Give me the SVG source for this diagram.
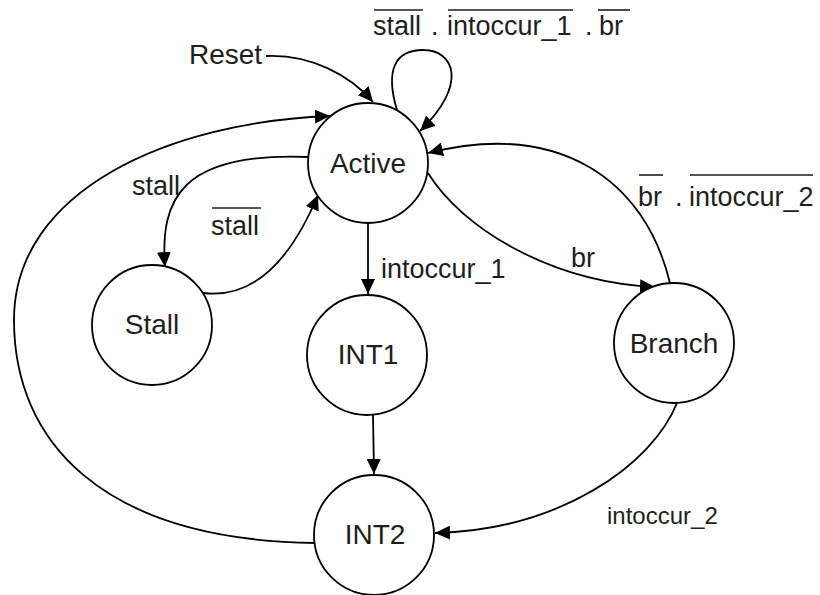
<svg xmlns="http://www.w3.org/2000/svg" width="820" height="595" viewBox="0 0 820 595">
  <style>
    .state { fill: #ffffff; stroke: #000000; stroke-width: 1.8; }
    .edge { fill: none; stroke: #000000; stroke-width: 1.8; }
    .arrow { marker-end: url(#head); }
    text { font-family: "Liberation Sans", Arial, sans-serif; font-size: 27px; fill: #1e1e1e; }
    .name { text-anchor: middle; font-size: 28px; }
    .bar { stroke: #1e1e1e; stroke-width: 1.6; }
  </style>
  <defs>
    <marker id="head" markerUnits="userSpaceOnUse" markerWidth="15" markerHeight="14" refX="15" refY="7" orient="auto">
      <path d="M0,0 L15,7 L0,14 z" fill="#000000"/>
    </marker>
  </defs>

  <rect width="820" height="595" fill="#ffffff"/>

  <!-- transitions -->
  <g id="connectors">
    <!-- reset entry -->
    <path class="edge arrow" d="M266,56 C310,54 350,75 373,102"/>
    <!-- Active self loop -->
    <path class="edge arrow" d="M397,110 C385,70 395,50 423,50 C455,50 468,85 420,131"/>
    <!-- INT2 back to Active -->
    <path class="edge arrow" d="M315,543 C100,540 14,440 14,320 C14,190 170,122 330,116"/>
    <!-- Active to Stall -->
    <path class="edge arrow" d="M308,157 C180,152 160,200 165,267"/>
    <!-- Stall to Active -->
    <path class="edge arrow" d="M203,293 C260,300 295,250 318,195"/>
    <!-- Active to INT1 -->
    <path class="edge arrow" d="M368,223 L368,294"/>
    <!-- INT1 to INT2 -->
    <path class="edge arrow" d="M373,415 L374,474"/>
    <!-- Active to Branch -->
    <path class="edge arrow" d="M428,173 C462,228 550,282 655,287"/>
    <!-- Branch to Active -->
    <path class="edge arrow" d="M670,283 C645,180 560,120 428,153"/>
    <!-- Branch to INT2 -->
    <path class="edge arrow" d="M677,403 C652,465 560,530 435,533"/>
  </g>

  <!-- states -->
  <g id="active">
    <circle class="state" cx="368" cy="163" r="60"/>
    <text class="name" x="368" y="173">Active</text>
  </g>
  <g id="stall">
    <circle class="state" cx="152" cy="325" r="60"/>
    <text class="name" x="152" y="334">Stall</text>
  </g>
  <g id="int1">
    <circle class="state" cx="367" cy="355" r="60"/>
    <text class="name" x="368" y="364">INT1</text>
  </g>
  <g id="int2">
    <circle class="state" cx="374" cy="535" r="60"/>
    <text class="name" x="375" y="544">INT2</text>
  </g>
  <g id="branch">
    <circle class="state" cx="674" cy="343" r="60"/>
    <text class="name" x="674" y="353">Branch</text>
  </g>

  <!-- transition labels -->
  <g id="labels">
    <text x="189" y="64" style="font-size:28px">Reset</text>

    <text y="35"><tspan x="373">stall</tspan><tspan x="431">.</tspan><tspan x="447">intoccur_1</tspan><tspan x="585">.</tspan><tspan x="599">br</tspan></text>
    <line class="bar" x1="374" y1="10" x2="423" y2="10"/>
    <line class="bar" x1="448" y1="10" x2="573" y2="10"/>
    <line class="bar" x1="598" y1="10" x2="630" y2="10"/>

    <text x="132" y="195">stall</text>
    <text x="211" y="235">stall</text>
    <line class="bar" x1="212" y1="208" x2="261" y2="208"/>

    <text x="381" y="278">intoccur_1</text>
    <text x="571" y="267">br</text>

    <text y="206"><tspan x="638">br</tspan><tspan x="675">.</tspan><tspan x="689">intoccur_2</tspan></text>
    <line class="bar" x1="639" y1="175" x2="663" y2="175"/>
    <line class="bar" x1="690" y1="175" x2="813" y2="175"/>

    <text x="607" y="524" style="font-size:24px">intoccur_2</text>
  </g>
</svg>
